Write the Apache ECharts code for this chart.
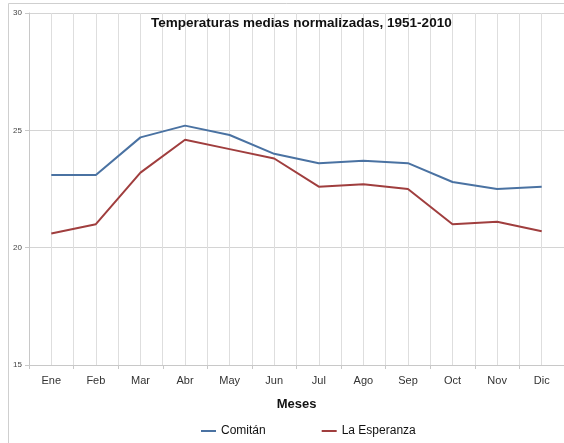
<!DOCTYPE html>
<html>
<head>
<meta charset="utf-8">
<script src="https://cdn.jsdelivr.net/npm/echarts@6/dist/echarts.min.js"></script>
<style>
  html, body { margin: 0; padding: 0; background: #fff; }
  #chart { width: 564px; height: 443px; }
</style>
</head>
<body>
<div id="chart"></div>
<script>
// datos
var meses = ['Ene', 'Feb', 'Mar', 'Abr', 'May', 'Jun', 'Jul', 'Ago', 'Sep', 'Oct', 'Nov', 'Dic'];
var comitan = [23.1, 23.1, 24.7, 25.2, 24.8, 24.0, 23.6, 23.7, 23.6, 22.8, 22.5, 22.6];
var esperanza = [20.6, 21.0, 23.2, 24.6, 24.2, 23.8, 22.6, 22.7, 22.5, 21.0, 21.1, 20.7];
// medias divisiones para la rejilla vertical
var medias = meses.concat(meses).map(function () { return ''; });

var chart = echarts.init(document.getElementById('chart'));

var option = {
  backgroundColor: '#fff',
  color: ['#4a72a2', '#a03e3e'],
  animation: false,
  textStyle: { fontFamily: 'Liberation Sans' },
  title: {
    text: 'Temperaturas medias normalizadas, 1951-2010',
    left: 146,
    top: 11,
    textStyle: { fontSize: 13.5, fontWeight: 'bold', color: '#111', fontFamily: 'Liberation Sans' }
  },
  legend: {
    data: ['Comitán', 'La Esperanza'],
    bottom: 1,
    left: 196,
    icon: 'rect',
    itemWidth: 15,
    itemHeight: 2,
    itemGap: 56,
    textStyle: { fontSize: 12, color: '#111' }
  },
  graphic: [{
    type: 'rect',
    shape: { x: 8.5, y: 3.5, width: 600, height: 500 },
    style: { fill: 'none', stroke: '#cfcfcf', lineWidth: 1 },
    silent: true
  }],
  grid: { left: 29, right: 0, top: 13, bottom: 78 },
  xAxis: [{
    type: 'category',
    data: meses,
    boundaryGap: true,
    name: 'Meses',
    nameLocation: 'middle',
    nameGap: 33,
    nameTextStyle: { fontSize: 13, fontWeight: 'bold', color: '#111' },
    axisLine: { lineStyle: { color: '#c8c8c8' } },
    axisTick: { show: true, length: 4, lineStyle: { color: '#c8c8c8' } },
    axisLabel: { fontSize: 11, color: '#333', margin: 10 },
    splitLine: { show: false }
  }, {
    type: 'category',
    data: medias,
    position: 'bottom',
    boundaryGap: true,
    axisLine: { show: false },
    axisTick: { show: false },
    axisLabel: { show: false },
    splitLine: { show: true, lineStyle: { color: '#dedede' } }
  }],
  yAxis: {
    type: 'value',
    min: 15,
    max: 30,
    interval: 5,
    axisLine: { show: true, lineStyle: { color: '#c8c8c8' } },
    axisTick: { show: true, length: 4, lineStyle: { color: '#c8c8c8' } },
    axisLabel: { fontSize: 8, color: '#444', margin: 7 },
    splitLine: { show: true, lineStyle: { color: '#d4d4d4' } }
  },
  series: [{
    name: 'Comitán',
    type: 'line',
    data: comitan,
    symbol: 'none',
    lineStyle: { width: 2 }
  }, {
    name: 'La Esperanza',
    type: 'line',
    data: esperanza,
    symbol: 'none',
    lineStyle: { width: 2 }
  }]
};

chart.setOption(option);
</script>
</body>
</html>
